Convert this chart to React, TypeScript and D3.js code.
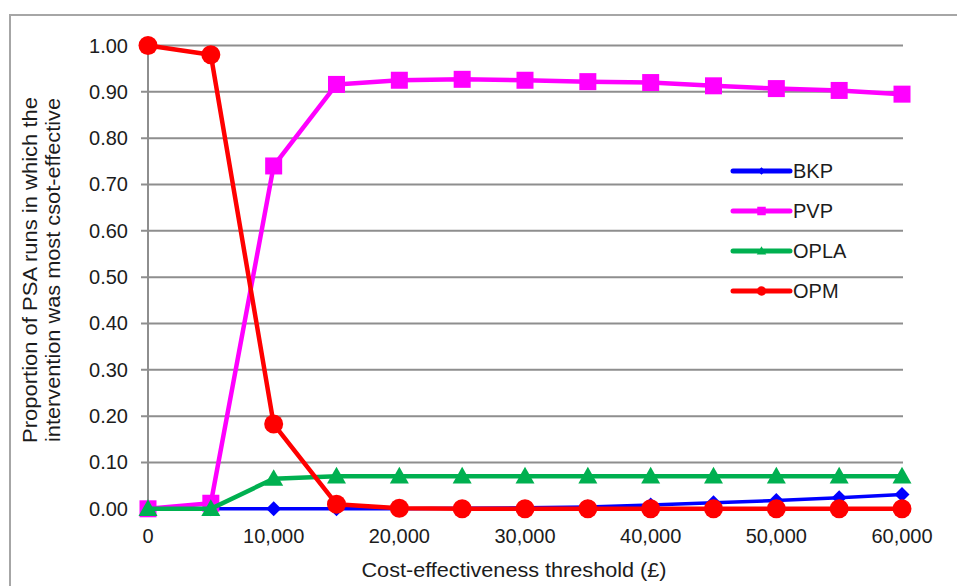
import React from "react";
import * as d3 from "d3";

const thresholds = [0, 5000, 10000, 15000, 20000, 25000, 30000, 35000, 40000, 45000, 50000, 55000, 60000];
const bkp = [0, 0, 0, 0, 0, 0.001, 0.002, 0.004, 0.008, 0.013, 0.018, 0.024, 0.031];
const pvp = [0, 0.012, 0.74, 0.916, 0.925, 0.927, 0.925, 0.922, 0.92, 0.913, 0.907, 0.903, 0.895];
const opla = [0, 0, 0.065, 0.07, 0.07, 0.07, 0.07, 0.07, 0.07, 0.07, 0.07, 0.07, 0.07];
const opm = [1.0, 0.98, 0.183, 0.01, 0.001, 0, 0, 0, 0, 0, 0, 0, 0];
const yTicks = [0, 0.1, 0.2, 0.3, 0.4, 0.5, 0.6, 0.7, 0.8, 0.9, 1.0];
const xTicks = [0, 10000, 20000, 30000, 40000, 50000, 60000];
const seriesNames = ["BKP", "PVP", "OPLA", "OPM"];

const W = 957;
const H = 586;
const FONT = "'Liberation Sans', Arial, sans-serif";
const TEXT = "#1c1c1c";

type Series = { name: string; values: number[]; color: string; marker: string; width: number };

const series: Series[] = [
  { name: seriesNames[0], values: bkp, color: "#0000ff", marker: "diamond", width: 3.5 },
  { name: seriesNames[1], values: pvp, color: "#ff00ff", marker: "square", width: 4.5 },
  { name: seriesNames[2], values: opla, color: "#00b050", marker: "triangle", width: 4.5 },
  { name: seriesNames[3], values: opm, color: "#ff0000", marker: "circle", width: 4.5 },
];

function Marker({ type, x, y, color, s }: { type: string; x: number; y: number; color: string; s: number }) {
  if (type === "diamond") {
    const r = s * 0.75;
    return <path d={`M${x},${y - r}L${x + r},${y}L${x},${y + r}L${x - r},${y}Z`} fill={color} />;
  }
  if (type === "square") {
    const r = s * 0.85;
    return <rect x={x - r} y={y - r} width={2 * r} height={2 * r} fill={color} />;
  }
  if (type === "triangle") {
    const r = s * 0.95;
    return <path d={`M${x},${y - r}L${x + r},${y + r * 0.75}L${x - r},${y + r * 0.75}Z`} fill={color} />;
  }
  return <circle cx={x} cy={y} r={s * 0.95} fill={color} />;
}

export default function App() {
  const x = d3.scaleLinear().domain([0, 60000]).range([148, 902]);
  const y = d3.scaleLinear().domain([0, 1]).range([508.8, 45.5]);
  const line = d3
    .line<number>()
    .x((_, i) => x(thresholds[i]))
    .y((d) => y(d));

  const legendX1 = 733;
  const legendX2 = 790;
  const legendY0 = 171;
  const legendDy = 40;

  return (
    <svg
      width={W}
      height={H}
      style={{ position: "absolute", left: 0, top: 0, background: "#fff" }}
      fontFamily={FONT}
    >
      <rect x={0} y={0} width={W} height={H} fill="#fff" />
      {/* outer frame */}
      <path d={`M10,${H}L10,15L${W},15`} fill="none" stroke="#a6a6a6" strokeWidth={2} />

      {/* gridlines */}
      {yTicks.map((t) => (
        <line key={t} x1={141} x2={903} y1={y(t)} y2={y(t)} stroke="#8e8e8e" strokeWidth={2} />
      ))}
      {/* y axis */}
      <line x1={x(0)} x2={x(0)} y1={y(1)} y2={516} stroke="#8e8e8e" strokeWidth={2} />

      {/* y tick labels */}
      {yTicks.map((t) => (
        <text
          key={t}
          x={128}
          y={y(t)}
          dy="0.35em"
          textAnchor="end"
          fontSize={20}
          fill={TEXT}
        >
          {d3.format(".2f")(t)}
        </text>
      ))}
      {/* x tick labels */}
      {xTicks.map((t) => (
        <text key={t} x={x(t)} y={543} textAnchor="middle" fontSize={20} fill={TEXT}>
          {d3.format(",")(t)}
        </text>
      ))}

      {/* axis titles */}
      <text x={514} y={577} textAnchor="middle" fontSize={20} fill={TEXT} textLength={305} lengthAdjust="spacingAndGlyphs">
        Cost-effectiveness threshold (£)
      </text>
      <g transform="translate(37,270) rotate(-90)">
        <text x={0} y={0} textAnchor="middle" fontSize={20} fill={TEXT} textLength={346} lengthAdjust="spacingAndGlyphs">
          Proportion of PSA runs in which the
        </text>
        <text x={0} y={23} textAnchor="middle" fontSize={20} fill={TEXT} textLength={344} lengthAdjust="spacingAndGlyphs">
          intervention was most csot-effective
        </text>
      </g>

      {/* series */}
      {series.map((s) => (
        <g key={s.name}>
          <path d={line(s.values) || ""} fill="none" stroke={s.color} strokeWidth={s.width} strokeLinejoin="round" />
          {s.values.map((v, i) => (
            <Marker key={i} type={s.marker} x={x(thresholds[i])} y={y(v)} color={s.color} s={10} />
          ))}
        </g>
      ))}

      {/* legend */}
      {series.map((s, i) => {
        const ly = legendY0 + i * legendDy;
        return (
          <g key={s.name}>
            <line x1={legendX1} x2={legendX2} y1={ly} y2={ly} stroke={s.color} strokeWidth={5} strokeLinecap="round" />
            <Marker type={s.marker} x={(legendX1 + legendX2) / 2} y={ly} color={s.color} s={5} />
            <text x={793} y={ly} dy="0.35em" fontSize={20} fill={TEXT}>
              {s.name}
            </text>
          </g>
        );
      })}
    </svg>
  );
}
